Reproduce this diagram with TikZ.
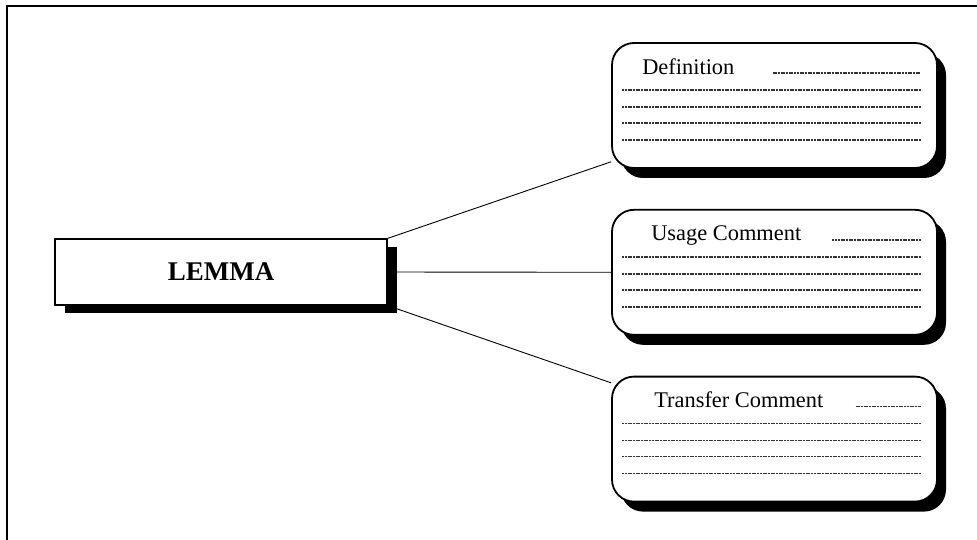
\documentclass[tikz,border=0pt]{standalone}
\usepackage{fontspec}
\setmainfont{Liberation Serif}
\usetikzlibrary{positioning,shadows,calc,backgrounds}

\tikzset{
  lemmabox/.style={draw, line width=1.2pt, fill=white, minimum width=332pt,
    minimum height=66pt, font=\fontsize{27}{30}\selectfont\bfseries,
    drop shadow={shadow xshift=10pt, shadow yshift=-8pt, fill=black, opacity=1}},
  notebox/.style={draw, line width=1.8pt, fill=white, rounded corners=22pt,
    minimum width=325pt, minimum height=125pt,
    drop shadow={shadow xshift=9pt, shadow yshift=-10pt, fill=black, opacity=1}},
  boxtitle/.style={anchor=base west, inner sep=0pt, font=\fontsize{22.4}{26}\selectfont},
  textline/.style={line width=1.5pt, dash pattern=on 2pt off 0.7pt, black!80},
}

\begin{document}
\begin{tikzpicture}[x=1pt, y=-1pt, node distance=40pt]
  \useasboundingbox (0,0) rectangle (977,540);
  \draw[line width=1.8pt] (977,6) -- (7,6) -- (7,540);

  \node[lemmabox] (lemma) at (221,272) {LEMMA};
  \node[notebox] (def) at (774.5,105.5) {};
  \node[notebox, below=of def] (usage) {};
  \node[notebox, below=of usage] (transfer) {};

  % titles and ruled lines in the comment boxes
  \foreach \b/\t/\ind/\gap in {def/Definition/31/38,
      usage/Usage Comment/40/31, transfer/Transfer Comment/43/32} {
    \node[boxtitle] (\b title) at ($(\b.north west)+(\ind,32)$) {\t};
    \draw[textline] ($(\b title.base east)+(\gap,-1)$) -- ($(\b.north east)+(-17,31)$);
    \foreach \dy in {48,65,81,98}
      \draw[textline] ($(\b.north west)+(11,\dy)$) -- ($(\b.north east)+(-17,\dy)$);
  }

  \begin{scope}[on background layer]
    \path[line width=0.9pt]
      (lemma.north east) edge (def.199)
      (lemma.east) edge (usage.west)
      (lemma.south east) edge (transfer.161);
  \end{scope}
\end{tikzpicture}
\end{document}
